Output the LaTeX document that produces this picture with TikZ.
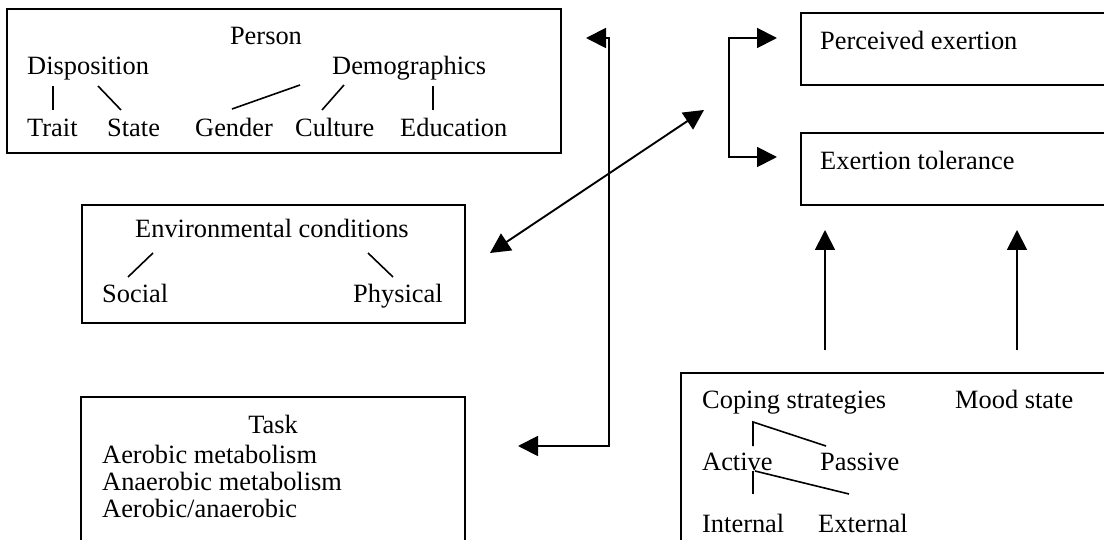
\documentclass[tikz,border=0pt]{standalone}
\usepackage{fontspec}
\setmainfont{Liberation Serif}
\usetikzlibrary{arrows.meta}
\tikzset{
  box/.style={draw, line width=1.9pt, rectangle, inner sep=0pt},
  lbl/.style={inner sep=0pt, anchor=base west, font=\fontsize{26.4}{30}\selectfont},
  clbl/.style={inner sep=0pt, anchor=base, font=\fontsize{26.4}{30}\selectfont},
  tree/.style={line width=1.6pt},
  arr/.style={line width=1.9pt, -{Triangle[length=20pt,width=20pt]}},
  darr/.style={line width=1.9pt, {Triangle[length=20pt,width=20pt]}-{Triangle[length=20pt,width=20pt]}},
}
\begin{document}
\begin{tikzpicture}[x=1pt,y=-1pt]
\useasboundingbox (0,0) rectangle (1104,540);
\clip (0,0) rectangle (1104,540);
% boxes
\node[box, minimum width=554pt, minimum height=144pt] (person) at (284,81) {};
\node[box, minimum width=383pt, minimum height=118pt] (env) at (273.5,264) {};
\node[box, minimum width=384pt, minimum height=163pt] (task) at (273,478.5) {};
\node[box, minimum width=309pt, minimum height=72pt] (perc) at (955.5,49) {};
\node[box, minimum width=309pt, minimum height=72pt] (tol) at (955.5,169) {};
\node[box, minimum width=429pt, minimum height=187pt] (cope) at (895.5,466.5) {};
% person texts
\node[clbl] (tperson) at (266,45) {Person};
\node[lbl] (disp) at (27,75) {Disposition};
\node[lbl] (demo) at (332,75) {Demographics};
\node[lbl] (trait) at (27,137) {Trait};
\node[lbl] (state) at (107,137) {State};
\node[lbl] (gender) at (195,137) {Gender};
\node[lbl] (culture) at (295,137) {Culture};
\node[lbl] (educ) at (400,137) {Education};
\draw[tree] (53,86) -- (53,110);
\draw[tree] (98,86) -- (121,110);
\draw[tree] (300,85) -- (232,109);
\draw[tree] (344,85) -- (322,110);
\draw[tree] (433,86) -- (433,110);
% environment texts
\node[lbl] (tenv) at (135,238) {Environmental conditions};
\node[lbl] (social) at (102,303) {Social};
\node[lbl] (phys) at (353,303) {Physical};
\draw[tree] (153,253) -- (128,277);
\draw[tree] (368,253) -- (393,277);
% task texts
\node[clbl] (ttask) at (273,433) {Task};
\node[lbl] (aer) at (102,463) {Aerobic metabolism};
\node[lbl] (anaer) at (102,490) {Anaerobic metabolism};
\node[lbl] (aeran) at (102,517) {Aerobic/anaerobic};
% right texts
\node[lbl] (tperc) at (820,50) {Perceived exertion};
\node[lbl] (ttol) at (820,170) {Exertion tolerance};
\node[lbl] (coping) at (702,408) {Coping strategies};
\node[lbl] (mood) at (955,408) {Mood state};
\node[lbl] (active) at (702,470) {Active};
\node[lbl] (passive) at (820,470) {Passive};
\node[lbl] (internal) at (702,532) {Internal};
\node[lbl] (external) at (818,532) {External};
\draw[tree] (753,446) -- (753,422) -- (826,446);
\draw[tree] (753,494) -- (753,471);
\draw[tree] (755,471) -- (849,494);
% connector coordinates
\coordinate (lt) at (586,38);
\coordinate (vt) at (609,38);
\coordinate (vb) at (609,446);
\coordinate (lb) at (518,446);
\coordinate (bt) at (777,38);
\coordinate (bvt) at (729,38);
\coordinate (bvb) at (729,157);
\coordinate (bb) at (777,157);
\coordinate (da) at (490,253);
\coordinate (db) at (704,110);
\coordinate (u1s) at (825,350);
\coordinate (u1e) at (825,230);
\coordinate (u2s) at (1017,350);
\coordinate (u2e) at (1017,230);
% connectors
\draw[darr] (lt) -- (vt) -- (vb) -- (lb);
\draw[darr] (bt) -- (bvt) -- (bvb) -- (bb);
\draw[darr] (da) -- (db);
\draw[arr] (u1s) -- (u1e);
\draw[arr] (u2s) -- (u2e);
\end{tikzpicture}
\end{document}
